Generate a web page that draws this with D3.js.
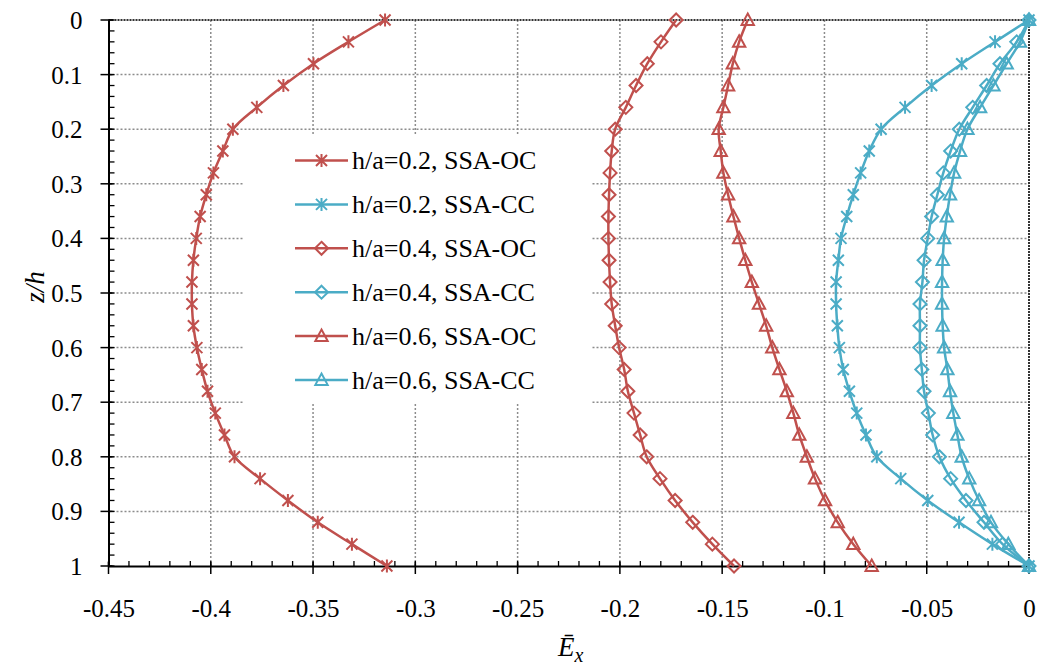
<!DOCTYPE html>
<html>
<head>
<meta charset="utf-8">
<script src="https://cdn.jsdelivr.net/npm/d3@7"></script>
<style>
  html, body { margin: 0; padding: 0; background: #fff; }
  svg { display: block; }
  text { font-family: "Liberation Serif", "Times New Roman", serif; fill: #000; }
</style>
</head>
<body>
<svg id="chart" width="1041" height="668"></svg>
<script>
// Depth positions z/h (26 stations through the thickness)
const zh = [0, 0.04, 0.08, 0.12, 0.16, 0.20, 0.24, 0.28, 0.32, 0.36, 0.40, 0.44, 0.48,
            0.52, 0.56, 0.60, 0.64, 0.68, 0.72, 0.76, 0.80, 0.84, 0.88, 0.92, 0.96, 1.0];

// Normalised in-plane stress Ē_x for each case
const oc02 = [-0.3148, -0.3327, -0.3498, -0.3645, -0.3775, -0.3892, -0.3941, -0.3987, -0.4022, -0.4052, -0.4071, -0.4085, -0.4092,
              -0.4092, -0.4085, -0.4068, -0.4044, -0.4016, -0.3978, -0.3933, -0.3884, -0.3759, -0.3623, -0.3477, -0.3310, -0.3139];
const cc02 = [0, -0.0166, -0.0329, -0.0476, -0.0606, -0.0723, -0.0781, -0.0823, -0.0859, -0.0891, -0.0919, -0.0932, -0.0943,
              -0.0943, -0.0937, -0.0927, -0.0908, -0.0878, -0.0842, -0.0797, -0.0744, -0.0627, -0.0495, -0.0342, -0.0179, 0];
const oc04 = [-0.1725, -0.1799, -0.1866, -0.1921, -0.1971, -0.2023, -0.2040, -0.2048, -0.2053, -0.2056, -0.2056, -0.2053, -0.2048,
              -0.2040, -0.2023, -0.2004, -0.1979, -0.1961, -0.1931, -0.1901, -0.1869, -0.1804, -0.1730, -0.1644, -0.1548, -0.1442];
const cc04 = [0, -0.0060, -0.0142, -0.0207, -0.0275, -0.0341, -0.0383, -0.0419, -0.0448, -0.0476, -0.0495, -0.0513, -0.0521,
              -0.0533, -0.0533, -0.0533, -0.0524, -0.0513, -0.0492, -0.0471, -0.0438, -0.0383, -0.0308, -0.0220, -0.0129, 0];
const oc06 = [-0.1375, -0.1417, -0.1448, -0.1471, -0.1494, -0.1517, -0.1507, -0.1494, -0.1471, -0.1445, -0.1417, -0.1387, -0.1355,
              -0.1320, -0.1285, -0.1255, -0.1220, -0.1184, -0.1152, -0.1123, -0.1086, -0.1046, -0.0997, -0.0935, -0.0859, -0.0769];
const cc06 = [0, -0.0044, -0.0109, -0.0174, -0.0239, -0.0301, -0.0337, -0.0366, -0.0386, -0.0402, -0.0415, -0.0422, -0.0425,
              -0.0425, -0.0422, -0.0415, -0.0399, -0.0386, -0.0370, -0.0350, -0.0329, -0.0292, -0.0244, -0.0186, -0.0101, 0];

const seriesNames = ["h/a=0.2, SSA-OC", "h/a=0.2, SSA-CC", "h/a=0.4, SSA-OC",
                     "h/a=0.4, SSA-CC", "h/a=0.6, SSA-OC", "h/a=0.6, SSA-CC"];
const seriesValues = [oc02, cc02, oc04, cc04, oc06, cc06];
const seriesMarkers = ["star", "star", "diamond", "diamond", "triangle", "triangle"];
const seriesColors = ["#C0504D", "#4BACC6", "#C0504D", "#4BACC6", "#C0504D", "#4BACC6"];

const xTicks = [-0.45, -0.4, -0.35, -0.3, -0.25, -0.2, -0.15, -0.1, -0.05, 0];
const yTicks = [0, 0.1, 0.2, 0.3, 0.4, 0.5, 0.6, 0.7, 0.8, 0.9, 1];

const svg = d3.select("#chart");
const plot = { left: 108.5, right: 1029, top: 20, bottom: 566 };

const x = d3.scaleLinear().domain([-0.45, 0]).range([plot.left, plot.right]);
const y = d3.scaleLinear().domain([0, 1]).range([plot.top, plot.bottom]);

// Dotted grid
const grid = svg.append("g");
grid.selectAll("line.vg").data(xTicks.filter(d => d > -0.45 && d < 0)).join("line")
  .attr("x1", d => x(d)).attr("x2", d => x(d))
  .attr("y1", plot.top).attr("y2", plot.bottom)
  .attr("stroke", "#8c8c8c").attr("stroke-width", 1.5).attr("stroke-dasharray", "2,2");
grid.selectAll("line.hg").data(yTicks.filter(d => d > 0 && d < 1)).join("line")
  .attr("x1", plot.left).attr("x2", plot.right)
  .attr("y1", d => y(d)).attr("y2", d => y(d))
  .attr("stroke", "#8c8c8c").attr("stroke-width", 1.5).attr("stroke-dasharray", "2,2");

// Top and right frame (dark dotted)
svg.append("line").attr("x1", plot.left).attr("x2", plot.right).attr("y1", plot.top).attr("y2", plot.top)
  .attr("stroke", "#333").attr("stroke-width", 2).attr("stroke-dasharray", "2,1");
svg.append("line").attr("x1", plot.right).attr("x2", plot.right).attr("y1", plot.top).attr("y2", plot.bottom)
  .attr("stroke", "#333").attr("stroke-width", 2).attr("stroke-dasharray", "2,1");

// Legend backing (hides grid behind the legend)
const legend = { x0: 243, y0: 135, x1: 592, y1: 403 };
svg.append("rect").attr("x", legend.x0).attr("y", legend.y0)
  .attr("width", legend.x1 - legend.x0).attr("height", legend.y1 - legend.y0)
  .attr("fill", "#fff");

// Axes
const xAxis = d3.axisBottom(x).tickValues(xTicks).tickFormat(d => d === 0 ? "0" : String(d)).tickSize(0).tickPadding(0);
const gx = svg.append("g").attr("transform", `translate(0,${plot.bottom})`).call(xAxis);
gx.select(".domain").attr("stroke", "#000").attr("stroke-width", 2);
gx.selectAll(".tick text").attr("y", 51).attr("dy", 0)
  .style("font-size", "25px").style("font-family", "'Liberation Serif', serif");

const yAxis = d3.axisLeft(y).tickValues(yTicks).tickFormat(d => String(d)).tickSize(0).tickPadding(0);
const gy = svg.append("g").attr("transform", `translate(${plot.left},0)`).call(yAxis);
gy.select(".domain").attr("stroke", "#000").attr("stroke-width", 2);
gy.selectAll(".tick text").attr("x", -26).attr("dy", "0.34em")
  .style("font-size", "25px").style("font-family", "'Liberation Serif', serif");

// Minor ticks (inside) and major ticks (crossing)
const xMinor = d3.range(0, 46).map(i => -0.45 + i * 0.01);
svg.append("g").selectAll("line").data(xMinor).join("line")
  .attr("x1", d => x(d)).attr("x2", d => x(d))
  .attr("y1", plot.bottom - 5).attr("y2", plot.bottom)
  .attr("stroke", "#000").attr("stroke-width", 1.3);
svg.append("g").selectAll("line").data(xTicks).join("line")
  .attr("x1", d => x(d)).attr("x2", d => x(d))
  .attr("y1", plot.bottom - 4).attr("y2", plot.bottom + 8)
  .attr("stroke", "#000").attr("stroke-width", 1.5);
const yMinor = d3.range(0, 51).map(i => i * 0.02);
svg.append("g").selectAll("line").data(yMinor).join("line")
  .attr("x1", plot.left).attr("x2", plot.left + 6)
  .attr("y1", d => y(d)).attr("y2", d => y(d))
  .attr("stroke", "#000").attr("stroke-width", 1.3);
svg.append("g").selectAll("line").data(yTicks).join("line")
  .attr("x1", plot.left - 8).attr("x2", plot.left + 4)
  .attr("y1", d => y(d)).attr("y2", d => y(d))
  .attr("stroke", "#000").attr("stroke-width", 1.5);

// Axis titles
const xt = svg.append("text").attr("x", x(-0.225) + 2).attr("y", 656)
  .attr("text-anchor", "middle").style("font-size", "27px").style("font-style", "italic");
xt.append("tspan").text("\u0112");
xt.append("tspan").attr("dy", 6).style("font-size", "20px").text("x");

svg.append("text").attr("transform", "translate(44,287) rotate(-90)")
  .attr("text-anchor", "middle").style("font-size", "27px").style("font-style", "italic")
  .text("z/h");

// Marker shapes
function markerPath(kind) {
  if (kind === "star") {
    const r = 5.5;
    return `M${-r},${-r}L${r},${r}M${-r},${r}L${r},${-r}M0,${-r - 1}L0,${r + 1}`;
  }
  if (kind === "diamond") {
    const r = 6.5;
    return `M0,${-r}L${r},0L0,${r}L${-r},0Z`;
  }
  const r = 6.5;
  return `M0,${-r}L${r * 0.95},${r * 0.75}L${-r * 0.95},${r * 0.75}Z`;
}

const line = d3.line().x(d => x(d.v)).y(d => y(d.z)).curve(d3.curveCatmullRom.alpha(0.5));

seriesValues.forEach((vals, i) => {
  const pts = vals.map((v, j) => ({ v, z: zh[j] }));
  const g = svg.append("g");
  g.append("path").datum(pts).attr("d", line)
    .attr("fill", "none").attr("stroke", seriesColors[i]).attr("stroke-width", 2.5);
  g.selectAll("path.m").data(pts).join("path").attr("class", "m")
    .attr("transform", d => `translate(${x(d.v)},${y(d.z)})`)
    .attr("d", markerPath(seriesMarkers[i]))
    .attr("fill", "none").attr("stroke", seriesColors[i]).attr("stroke-width", 2);
});

// Legend entries
const legY0 = 160.5, legDy = 43.9;
seriesNames.forEach((name, i) => {
  const cy = legY0 + i * legDy;
  const g = svg.append("g");
  g.append("line").attr("x1", 295).attr("x2", 348).attr("y1", cy).attr("y2", cy)
    .attr("stroke", seriesColors[i]).attr("stroke-width", 2.5);
  g.append("path").attr("transform", `translate(321.5,${cy})`).attr("d", markerPath(seriesMarkers[i]))
    .attr("fill", "none").attr("stroke", seriesColors[i]).attr("stroke-width", 2);
  g.append("text").attr("x", 352).attr("y", cy).attr("dy", "0.33em")
    .style("font-size", "26px").text(name);
});
</script>
</body>
</html>
